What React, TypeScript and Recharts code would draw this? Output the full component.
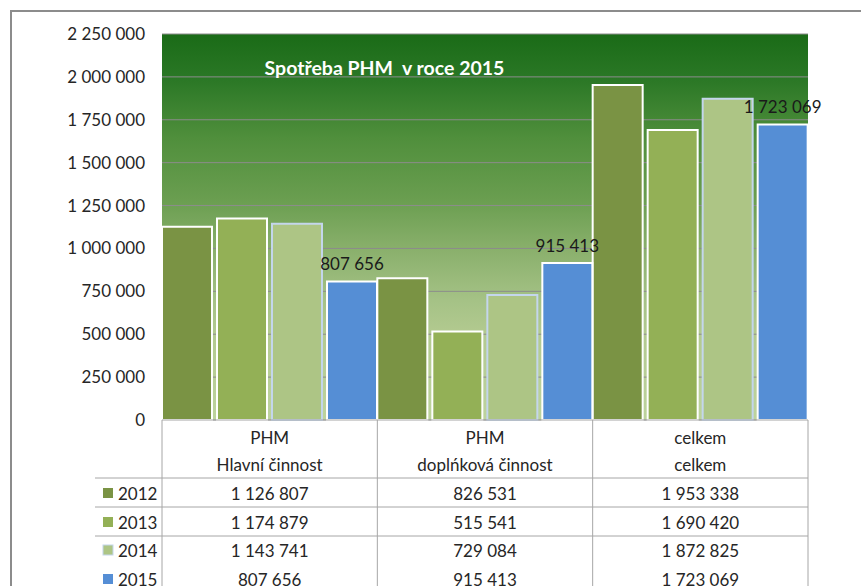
import React from 'react';
import { BarChart, Bar, XAxis, YAxis, CartesianGrid, LabelList } from 'recharts';

const categoryTop = ['PHM', 'PHM', 'celkem'];
const categoryBottom = ['Hlavní činnost', 'doplńková činnost', 'celkem'];

const years = ['2012', '2013', '2014', '2015'];
const values2012 = [1126807, 826531, 1953338];
const values2013 = [1174879, 515541, 1690420];
const values2014 = [1143741, 729084, 1872825];
const values2015 = [807656, 915413, 1723069];

const yTicks = [0, 250000, 500000, 750000, 1000000, 1250000, 1500000, 1750000, 2000000, 2250000];

const seriesColors = ['#7a9344', '#93b056', '#adc585', '#558ed5'];
const seriesStrokes = ['#ffffff', '#ffffff', '#c4d6ec', '#ffffff'];

const W = 861;
const H = 586;
const LEFT = 162;
const RIGHT = 53;
const TOP = 34;
const AXIS_H = 166;
const PLOT_BOTTOM = H - AXIS_H;
const COL_W = (W - LEFT - RIGHT) / categoryTop.length;

const FONT = 'Lato, "Open Sans", sans-serif';

const fmt = (v: number) => String(v).replace(/\B(?=(\d{3})+(?!\d))/g, ' ');

const data = categoryTop.map((top, i) => ({
  name: `${top} ${categoryBottom[i]}`,
  y2012: values2012[i],
  y2013: values2013[i],
  y2014: values2014[i],
  y2015: values2015[i],
}));

const seriesValues = [values2012, values2013, values2014, values2015];

// row centres of the data table below the plot
const HEADER_1 = PLOT_BOTTOM + 17;
const HEADER_2 = PLOT_BOTTOM + 44;
const ROW_Y = [PLOT_BOTTOM + 73, PLOT_BOTTOM + 102, PLOT_BOTTOM + 130, PLOT_BOTTOM + 159];
const ROW_LINES = [PLOT_BOTTOM + 58, PLOT_BOTTOM + 87, PLOT_BOTTOM + 116];

const LINE_COLOR = '#a6a6a6';
const TEXT_COLOR = '#262626';

const TableTick = (props: any) => {
  const { x, index } = props;
  const left = x - COL_W / 2;
  const right = x + COL_W / 2;
  const last = index === categoryTop.length - 1;

  return (
    <g fontFamily={FONT} fontSize={17} fill={TEXT_COLOR}>
      <line x1={left} x2={left} y1={PLOT_BOTTOM} y2={H} stroke={LINE_COLOR} />
      {last && <line x1={right} x2={right} y1={PLOT_BOTTOM} y2={H} stroke={LINE_COLOR} />}
      <text x={x} y={HEADER_1} textAnchor="middle" dominantBaseline="central">
        {categoryTop[index]}
      </text>
      <text x={x} y={HEADER_2} textAnchor="middle" dominantBaseline="central">
        {categoryBottom[index]}
      </text>
      {seriesValues.map((vals, r) => (
        <text key={r} x={x} y={ROW_Y[r]} textAnchor="middle" dominantBaseline="central">
          {fmt(vals[index])}
        </text>
      ))}
      {index === 0 && (
        <g>
          {ROW_LINES.map((ly) => (
            <line key={ly} x1={95} x2={W - RIGHT} y1={ly} y2={ly} stroke={LINE_COLOR} />
          ))}
          {years.map((yr, r) => (
            <g key={yr}>
              <rect
                x={103}
                y={ROW_Y[r] - 5}
                width={10}
                height={10}
                fill={seriesColors[r]}
                stroke={r === 2 ? seriesStrokes[2] : 'none'}
              />
              <text x={118} y={ROW_Y[r]} dominantBaseline="central">
                {yr}
              </text>
            </g>
          ))}
        </g>
      )}
    </g>
  );
};

// value label above a bar, kept on one line
const TopLabel = (props: any) => {
  const { x, y, width, value } = props;
  return (
    <text
      x={x + width / 2}
      y={y - 11}
      textAnchor="middle"
      fontFamily={FONT}
      fontSize={17}
      fill="#1a1a1a"
    >
      {fmt(Number(value))}
    </text>
  );
};

export default function App() {
  return (
    <div style={{ position: 'fixed', left: 0, top: 0, width: W, height: H, background: '#fff' }}>
      <div
        style={{
          position: 'absolute',
          left: 10,
          top: 10,
          right: 0,
          bottom: 0,
          borderLeft: '2px solid #8c8c8c',
          borderTop: '2px solid #8c8c8c',
        }}
      />
      <BarChart
        width={W}
        height={H}
        data={data}
        margin={{ top: TOP, right: RIGHT, left: 0, bottom: 0 }}
        barCategoryGap={0}
        barGap={5}
        style={{ position: 'absolute', left: 0, top: 0 }}
      >
        <defs>
          <linearGradient id="plotBg" x1="0" y1="0" x2="0" y2="1">
            <stop offset="0%" stopColor="#1a6b17" />
            <stop offset="12%" stopColor="#2b7826" />
            <stop offset="27%" stopColor="#508f3c" />
            <stop offset="43%" stopColor="#6a9e50" />
            <stop offset="56%" stopColor="#8ab06c" />
            <stop offset="69%" stopColor="#a5c286" />
            <stop offset="78%" stopColor="#b3ca90" />
            <stop offset="100%" stopColor="#bdd39d" />
          </linearGradient>
        </defs>
        <CartesianGrid vertical={false} stroke="#8c8c8c" fill="url(#plotBg)" fillOpacity={1} />
        <XAxis
          dataKey="name"
          height={AXIS_H}
          axisLine={{ stroke: LINE_COLOR }}
          tickLine={false}
          interval={0}
          tick={<TableTick />}
        />
        <YAxis
          width={LEFT}
          domain={[0, 2250000]}
          ticks={yTicks}
          axisLine={false}
          tickLine={false}
          tickMargin={11}
          tickFormatter={fmt}
          tick={{ fontFamily: FONT, fontSize: 17, fill: TEXT_COLOR }}
        />
        {years.map((yr, i) => (
          <Bar
            key={yr}
            dataKey={`y${yr}`}
            fill={seriesColors[i]}
            stroke={seriesStrokes[i]}
            strokeWidth={2}
            isAnimationActive={false}
          >
            {yr === '2015' && <LabelList dataKey={`y${yr}`} content={<TopLabel />} />}
          </Bar>
        ))}
      </BarChart>
      <div
        style={{
          position: 'absolute',
          left: 254,
          top: 55,
          width: 261,
          textAlign: 'center',
          fontFamily: FONT,
          fontWeight: 700,
          fontSize: 19.5,
          color: '#ffffff',
          whiteSpace: 'pre',
          lineHeight: '26px',
        }}
      >
        {'Spotřeba PHM  v roce 2015'}
      </div>
    </div>
  );
}
